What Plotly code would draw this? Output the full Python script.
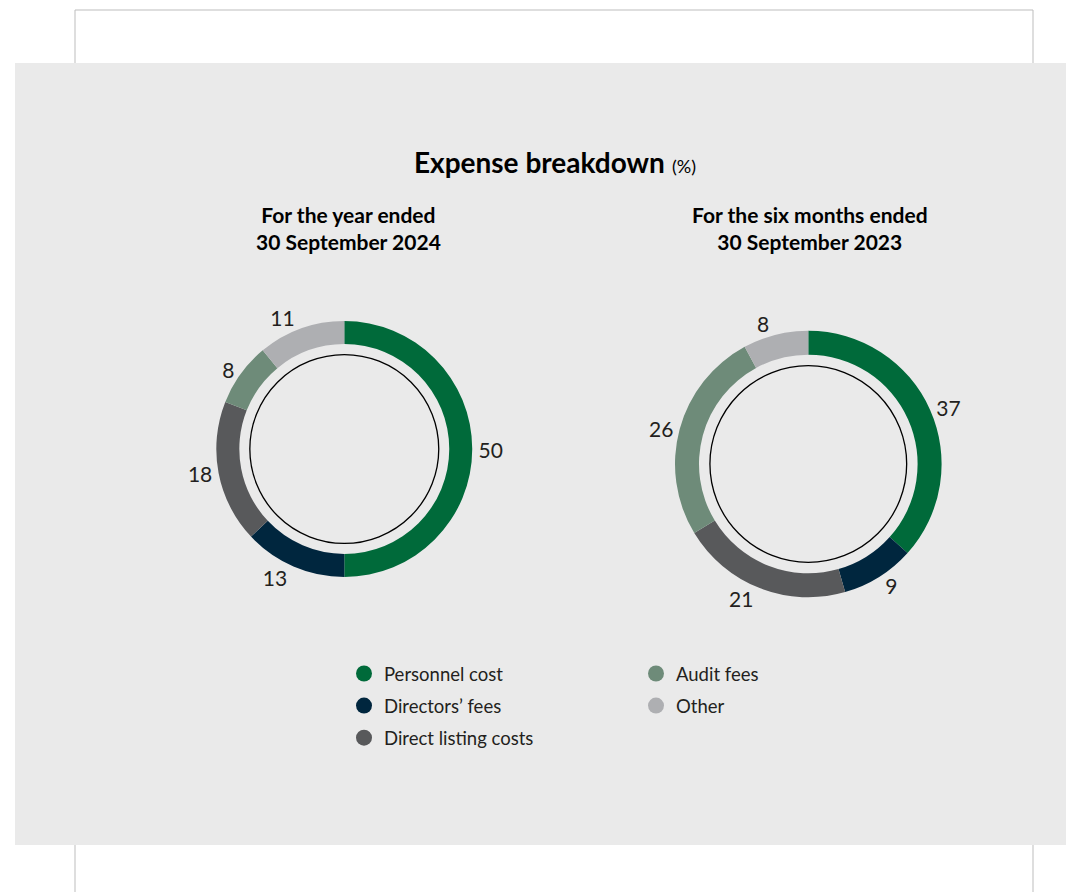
import plotly.graph_objects as go

categories = ["Personnel cost", "Directors\u2019 fees", "Direct listing costs", "Audit fees", "Other"]
values_2024 = [50, 13, 18, 8, 11]
values_2023 = [37, 9, 21, 26, 8]
colors = ["#006A3A", "#00263E", "#58595B", "#6E8B79", "#AEAFB2"]

title_main = "Expense breakdown"
subtitle_left = "For the year ended<br>30 September 2024"
subtitle_right = "For the six months ended<br>30 September 2023"

# page has an 8px body margin; figure coordinates are offset accordingly
OFF = 8
W, H = 1066, 884
FONT = "Lato"
TXT = "#231F20"


def px(x):
    return (x - OFF) / W


def py(y):
    return 1 - (y - OFF) / H


def dom_from(cx, cy, r):
    return dict(x=[px(cx - r), px(cx + r)], y=[py(cy + r), py(cy - r)])


left_dom = dom_from(344.3, 449, 128)
right_dom = dom_from(808.3, 464, 133.3)

fig = go.Figure()
for vals, dom in [(values_2024, left_dom), (values_2023, right_dom)]:
    fig.add_trace(go.Pie(
        labels=categories, values=vals, sort=False, direction="clockwise", rotation=0,
        hole=0.82, domain=dom, marker=dict(colors=colors, line=dict(width=0)),
        texttemplate="%{value}", textposition="outside",
        textfont=dict(family=FONT, size=21, color=TXT, weight=400),
        showlegend=False, hoverinfo="label+value",
    ))

legend_map = ["legend", "legend", "legend", "legend2", "legend2"]
for i, (cat, col) in enumerate(zip(categories, colors)):
    fig.add_trace(go.Scatter(
        x=[None], y=[None], mode="markers", name=cat,
        marker=dict(color=col, size=16, symbol="circle"),
        legend=legend_map[i], legendgroup=cat, showlegend=True,
    ))

shapes = []
shapes.append(dict(type="rect", xref="paper", yref="paper",
                   x0=px(75), x1=px(1033), y0=-0.05, y1=py(10),
                   line=dict(color="#BDBDBD", width=1), fillcolor="white", layer="below"))
shapes.append(dict(type="rect", xref="paper", yref="paper",
                   x0=px(15), x1=1.01, y0=py(845), y1=py(63),
                   line=dict(width=0), fillcolor="#EAEAEA", layer="below"))
for dom in (left_dom, right_dom):
    cx = (dom["x"][0] + dom["x"][1]) / 2 * W
    cy = (dom["y"][0] + dom["y"][1]) / 2 * H
    r = (dom["x"][1] - dom["x"][0]) / 2 * W * 0.738
    shapes.append(dict(type="circle", xref="paper", yref="paper",
                       x0=(cx - r) / W, x1=(cx + r) / W, y0=(cy - r) / H, y1=(cy + r) / H,
                       line=dict(color="black", width=1.3), fillcolor="rgba(0,0,0,0)", layer="above"))

annotations = [
    dict(text="<b>" + subtitle_left + "</b>", x=px(349), y=py(228), xref="paper", yref="paper",
         xanchor="center", yanchor="middle", showarrow=False, align="center",
         font=dict(family=FONT, size=21, color="black")),
    dict(text="<b>" + subtitle_right + "</b>", x=px(810), y=py(228), xref="paper", yref="paper",
         xanchor="center", yanchor="middle", showarrow=False, align="center",
         font=dict(family=FONT, size=21, color="black")),
]

legend_common = dict(xanchor="left", yanchor="top", orientation="v",
                     bgcolor="rgba(0,0,0,0)", tracegroupgap=5,
                     font=dict(family=FONT, size=18.5, color=TXT, weight=400))

fig.update_layout(
    width=W, height=H, margin=dict(l=0, r=0, t=0, b=0),
    paper_bgcolor="white", plot_bgcolor="rgba(0,0,0,0)",
    xaxis=dict(visible=False), yaxis=dict(visible=False),
    title=dict(text="<b>" + title_main + "</b> <span style='font-size:18px;font-weight:400'>(%)</span>",
               x=px(555), xanchor="center", y=py(163), yanchor="middle", yref="paper",
               font=dict(family=FONT, size=28, color="black")),
    shapes=shapes, annotations=annotations,
    legend=dict(x=px(364 - 20), y=py(655), **legend_common),
    legend2=dict(x=px(656 - 20), y=py(655), **legend_common),
)

fig.write_html("out.html")
